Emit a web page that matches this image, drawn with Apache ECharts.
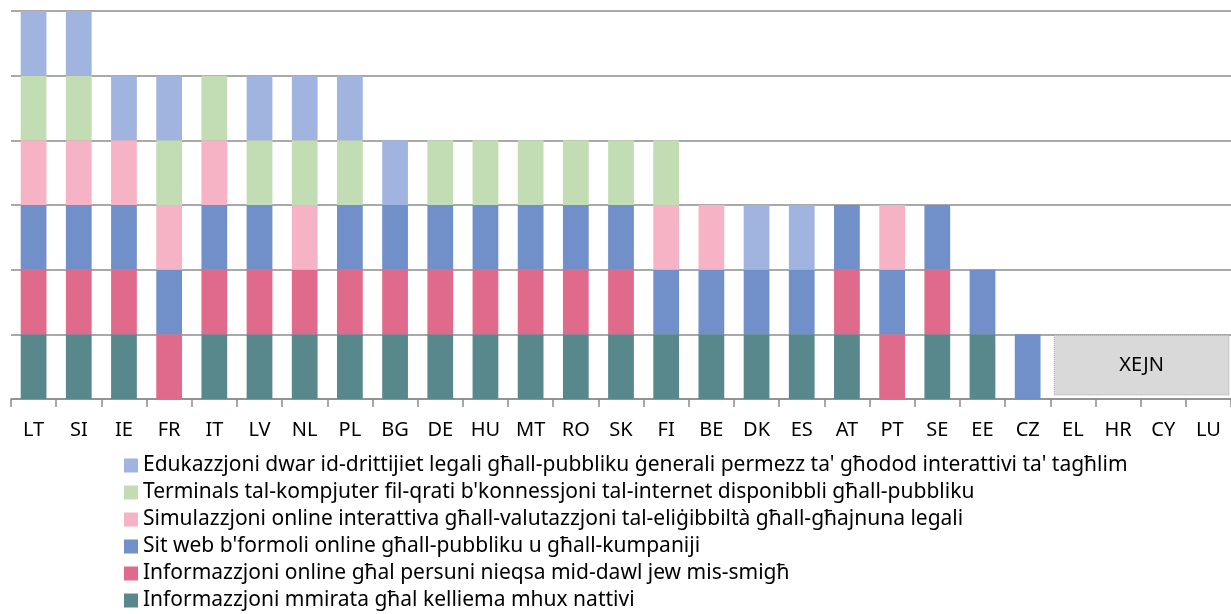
<!DOCTYPE html>
<html>
<head>
<meta charset="utf-8">
<script src="https://cdn.jsdelivr.net/npm/echarts@6/dist/echarts.min.js"></script>
<style>
  html, body { margin: 0; padding: 0; background: #fff; }
  #chart { width: 1231px; height: 614px; }
</style>
</head>
<body>
<div id="chart"></div>
<script>
// kategoriji (pajjiżi)
var categories = ['LT', 'SI', 'IE', 'FR', 'IT', 'LV', 'NL', 'PL', 'BG', 'DE', 'HU', 'MT', 'RO', 'SK',
  'FI', 'BE', 'DK', 'ES', 'AT', 'PT', 'SE', 'EE', 'CZ', 'EL', 'HR', 'CY', 'LU']

// serje, mill-qiegħ għall-quċċata tal-munzell
var mmirata = [1, 1, 1, 0, 1, 1, 1, 1, 1, 1, 1, 1, 1, 1, 1, 1, 1, 1, 1, 0, 1, 1, 0, 0, 0, 0, 0]
var persuni = [1, 1, 1, 1, 1, 1, 1, 1, 1, 1, 1, 1, 1, 1, 0, 0, 0, 0, 1, 1, 1, 0, 0, 0, 0, 0, 0]
var sitWeb = [1, 1, 1, 1, 1, 1, 0, 1, 1, 1, 1, 1, 1, 1, 1, 1, 1, 1, 1, 1, 1, 1, 1, 0, 0, 0, 0]
var simulazzjoni = [1, 1, 1, 1, 1, 0, 1, 0, 0, 0, 0, 0, 0, 0, 1, 1, 0, 0, 0, 1, 0, 0, 0, 0, 0, 0, 0]
var terminals = [1, 1, 0, 1, 1, 1, 1, 1, 0, 1, 1, 1, 1, 1, 1, 0, 0, 0, 0, 0, 0, 0, 0, 0, 0, 0, 0]
var edukazzjoni = [1, 1, 1, 1, 0, 1, 1, 1, 1, 0, 0, 0, 0, 0, 0, 0, 1, 1, 0, 0, 0, 0, 0, 0, 0, 0, 0]

var seriesNames = [
  'Informazzjoni mmirata għal kelliema mhux nattivi',
  'Informazzjoni online għal persuni nieqsa mid-dawl jew mis-smigħ',
  "Sit web b'formoli online għall-pubbliku u għall-kumpaniji",
  'Simulazzjoni online interattiva għall-valutazzjoni tal-eliġibbiltà għall-għajnuna legali',
  "Terminals tal-kompjuter fil-qrati b'konnessjoni tal-internet disponibbli għall-pubbliku",
  "Edukazzjoni dwar id-drittijiet legali għall-pubbliku ġenerali permezz ta' għodod interattivi ta' tagħlim"
]
var seriesData = [mmirata, persuni, sitWeb, simulazzjoni, terminals, edukazzjoni]

// pajjiżi mingħajr ebda għodda
var noneFrom = 'EL'
var noneTo = 'LU'
var noneLabel = 'XEJN'

var colors = ['#58878c', '#e06a8b', '#718fc8', '#f5b3c5', '#c2ddb3', '#a1b4df']
var font = 'Noto Sans'

var chart = echarts.init(document.getElementById('chart'))

var series = seriesData.map(function(d, i) {
  return {
    name: seriesNames[i],
    type: 'bar',
    stack: 'total',
    barCategoryGap: '43%',
    itemStyle: { color: colors[i] },
    data: d
  }
})

series.push({
  name: 'xejn',
  type: 'custom',
  silent: true,
  data: [[categories.indexOf(noneFrom), categories.indexOf(noneTo), 1]],
  renderItem: function(params, api) {
    var band = api.size([1, 0])[0]
    var p0 = api.coord([api.value(0), 0])
    var p1 = api.coord([api.value(1), api.value(2)])
    var x0 = p0[0] - band / 2 + 4
    var x1 = p1[0] + band / 2 - 2
    var y0 = p1[1] + 1
    var y1 = p0[1] - 4
    return {
      type: 'group',
      children: [{
        type: 'rect',
        shape: { x: x0, y: y0, width: x1 - x0, height: y1 - y0 },
        style: { fill: '#d9d9d9', stroke: '#a6a6a6', lineWidth: 1, lineDash: [1, 1] }
      }, {
        type: 'text',
        style: {
          text: noneLabel,
          x: (x0 + x1) / 2,
          y: (y0 + y1) / 2,
          align: 'center',
          verticalAlign: 'middle',
          fontFamily: font,
          fontSize: 20,
          fill: '#000'
        }
      }]
    }
  }
})

var option = {
  animation: false,
  textStyle: { fontFamily: font },
  grid: { left: 11, right: 0, top: 11, bottom: 215, containLabel: false },
  legend: {
    orient: 'vertical',
    left: 124,
    top: 455,
    height: 200,
    padding: 0,
    itemWidth: 14,
    itemHeight: 14,
    itemGap: 6,
    icon: 'rect',
    textStyle: { fontFamily: font, fontSize: 21, lineHeight: 21, color: '#000' },
    data: seriesNames.slice().reverse()
  },
  xAxis: {
    type: 'category',
    data: categories,
    axisLine: { lineStyle: { color: '#8c8c8c', width: 1.5 } },
    axisTick: { show: true, length: 8, interval: 0, lineStyle: { color: '#8c8c8c', width: 1.5 } },
    axisLabel: { interval: 0, margin: 21, color: '#000', fontFamily: font, fontSize: 20 }
  },
  yAxis: {
    type: 'value',
    min: 0,
    max: 6,
    interval: 1,
    axisLine: { show: false },
    axisTick: { show: false },
    axisLabel: { show: false },
    splitLine: { lineStyle: { color: '#8c8c8c', width: 1.5 } }
  },
  series: series
}

chart.setOption(option)
</script>
</body>
</html>
